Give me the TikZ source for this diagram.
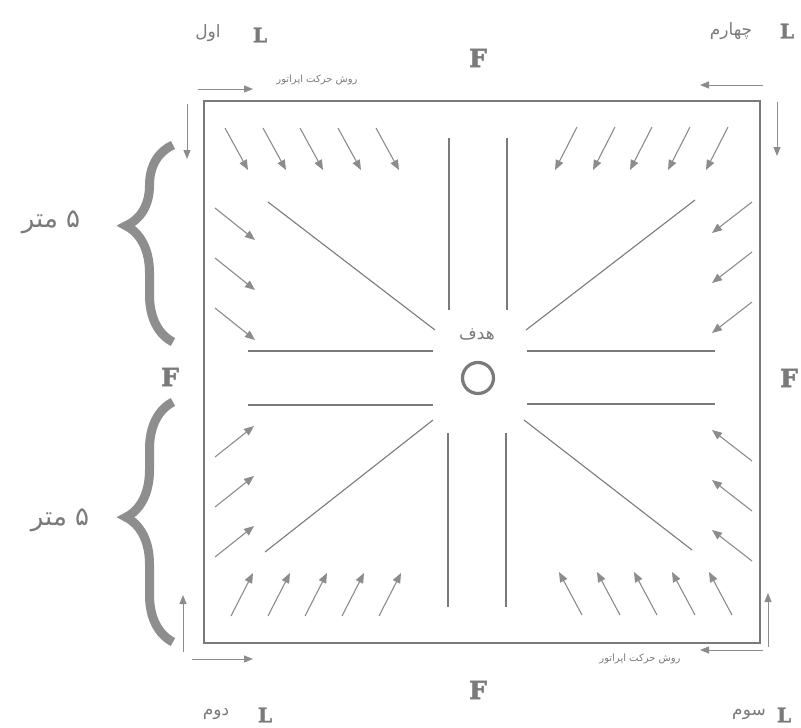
\documentclass[tikz,border=0pt]{standalone}
\usepackage{fontspec}
\usetikzlibrary{arrows.meta,decorations.pathreplacing}
\newfontfamily\fafont[Script=Arabic]{DejaVu Sans}
\newfontfamily\slabfont[BoldFeatures={FakeBold=2}]{DejaVu Serif}
\TeXXeTstate=1
\definecolor{inkgray}{HTML}{7A7A7A}
\definecolor{arrowgray}{HTML}{8C8C8C}
\definecolor{bracegray}{HTML}{8E8E8E}

\begin{document}
\begin{tikzpicture}[x=1pt,y=-1pt,every node/.style={text=inkgray,inner sep=0pt},
  guide/.style={inkgray,line width=1.1pt},
  flow/.style={arrowgray,line width=1.1pt,-{Triangle[length=10pt,width=8pt]}},
  walk/.style={arrowgray,line width=1pt,-{Triangle[length=9pt,width=7pt]}},
  letter/.style={font=\slabfont\bfseries\fontsize{20}{20}\selectfont},
  bigletter/.style={font=\slabfont\bfseries\fontsize{25}{25}\selectfont},
  farsi/.style={font=\fafont\fontsize{17}{19}\selectfont},
  small farsi/.style={font=\fafont\fontsize{10}{12}\selectfont},
  meter/.style={font=\fafont\fontsize{26}{28}\selectfont},
  bracket/.style={bracegray,line width=9pt,decorate,decoration={brace,amplitude=47pt,aspect=#1}}]
\useasboundingbox (0,0) rectangle (801,728);
% field
\draw[inkgray,line width=1.4pt] (204,101) rectangle (760,643);
\node[draw=inkgray,circle,line width=3.2pt,minimum size=31pt] (goal) at (478,378) {};
\node[farsi] (goaltxt) at (477,334) {\beginR هدف\endR};
% guide lines toward the target
\draw[guide] (449,138)--(449,310);
\draw[guide] (507,138)--(507,310);
\draw[guide] (448,433)--(448,607);
\draw[guide] (506,433)--(506,607);
\draw[guide] (248,351)--(433,351);
\draw[guide] (527,351)--(715,351);
\draw[guide] (248,405)--(433,405);
\draw[guide] (527,404)--(715,404);
\draw[guide] (268,202)--(435,330);
\draw[guide] (695,200)--(526,330);
\draw[guide] (265,552)--(433,420);
\draw[guide] (524,420)--(692,550);
% top left
\draw[flow] (225,128)--(248,170);
\draw[flow] (263,128)--(286,170);
\draw[flow] (300,128)--(323,170);
\draw[flow] (338,128)--(361,170);
\draw[flow] (376,128)--(399,170);
\draw[flow] (215,208)--(255,240);
\draw[flow] (215,258)--(255,290);
\draw[flow] (215,308)--(255,340);
% top right
\draw[flow] (577,127)--(555,170);
\draw[flow] (615,127)--(593,170);
\draw[flow] (652,127)--(630,170);
\draw[flow] (690,127)--(668,170);
\draw[flow] (728,127)--(706,170);
\draw[flow] (752,202)--(712,233);
\draw[flow] (752,252)--(712,283);
\draw[flow] (752,302)--(712,333);
% bottom left
\draw[flow] (215,457)--(254,426);
\draw[flow] (215,507)--(254,476);
\draw[flow] (215,557)--(254,526);
\draw[flow] (231,616)--(253,573);
\draw[flow] (268,616)--(290,573);
\draw[flow] (305,616)--(327,573);
\draw[flow] (342,616)--(364,573);
\draw[flow] (379,616)--(401,573);
% bottom right
\draw[flow] (752,461)--(712,430);
\draw[flow] (752,511)--(712,480);
\draw[flow] (752,561)--(712,530);
\draw[flow] (582,615)--(559,572);
\draw[flow] (620,615)--(597,572);
\draw[flow] (657,615)--(634,572);
\draw[flow] (695,615)--(672,572);
\draw[flow] (732,615)--(709,572);
% operator walk
\draw[walk] (198,89)--(253,89);
\node[small farsi] (walktop) at (317,80) {\beginR روش حرکت اپراتور\endR};
\draw[walk] (763,85)--(700,85);
\draw[walk] (187,104)--(187,159);
\draw[walk] (777,102)--(777,156);
\draw[walk] (183,652)--(183,595);
\draw[walk] (192,659)--(253,659);
\draw[walk] (768,647)--(768,593);
\draw[walk] (763,650)--(700,650);
\node[small farsi] (walkbot) at (640,659) {\beginR روش حرکت اپراتور\endR};
% corners
\node[letter] (l1) at (260,35) {L};
\node[farsi] (l1txt) at (208,33) {\beginR اول\endR};
\node[letter] (l4) at (787,31) {L};
\node[farsi] (l4txt) at (731,31) {\beginR چهارم\endR};
\node[letter] (l2) at (265,715) {L};
\node[farsi] (l2txt) at (216,714) {\beginR دوم\endR};
\node[letter] (l3) at (784,715) {L};
\node[farsi] (l3txt) at (749,714) {\beginR سوم\endR};
% F marks
\node[bigletter] (ftop) at (478,58) {F};
\node[bigletter] (fbot) at (478,690) {F};
\node[bigletter] (fleft) at (170,377) {F};
\node[bigletter] (fright) at (789,378) {F};
% braces
\draw[bracket=0.59] (173,342)--(173,145);
\draw[bracket=0.52] (173,642)--(173,402);
\node[meter] (m1) at (51,222) {\beginR ۵ متر\endR};
\node[meter] (m2) at (60,520) {\beginR ۵ متر\endR};
\end{tikzpicture}
\end{document}
